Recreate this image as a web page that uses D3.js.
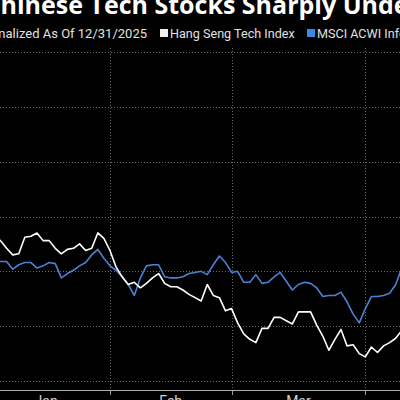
<!DOCTYPE html>
<html>
<head>
<meta charset="utf-8">
<script src="https://cdn.jsdelivr.net/npm/d3@7"></script>
<style>
  html, body { margin: 0; padding: 0; background: #000; overflow: hidden; }
  svg { display: block; }
</style>
</head>
<body>
<svg id="chart" width="400" height="400"></svg>
<script>
// trading days, normalized to 100 as of 12/31/2025
var dates = ["2025-12-31",
  "2026-01-02","2026-01-05","2026-01-06","2026-01-07","2026-01-08","2026-01-09",
  "2026-01-12","2026-01-13","2026-01-14","2026-01-15","2026-01-16",
  "2026-01-19","2026-01-20","2026-01-21","2026-01-22","2026-01-23",
  "2026-01-26","2026-01-27","2026-01-28","2026-01-29","2026-01-30",
  "2026-02-02","2026-02-03","2026-02-04","2026-02-05","2026-02-06",
  "2026-02-09","2026-02-10","2026-02-11","2026-02-12","2026-02-13",
  "2026-02-16","2026-02-17","2026-02-18","2026-02-19","2026-02-20",
  "2026-02-23","2026-02-24","2026-02-25","2026-02-26","2026-02-27",
  "2026-03-02","2026-03-03","2026-03-04","2026-03-05","2026-03-06",
  "2026-03-09","2026-03-10","2026-03-11","2026-03-12","2026-03-13",
  "2026-03-16","2026-03-17","2026-03-18","2026-03-19","2026-03-20",
  "2026-03-23","2026-03-24","2026-03-25","2026-03-26","2026-03-27",
  "2026-03-30","2026-03-31","2026-04-01","2026-04-02","2026-04-03",
  "2026-04-06","2026-04-07","2026-04-08","2026-04-09"];

var hangSeng = [100,
  103.4,103.2,103.0,102.8,102.1,101.5,
  101.6,103.1,103.2,103.5,102.8,
  102.8,102.1,101.6,102.0,102.1,
  102.5,101.9,102.1,103.5,103.0,
  101.9,100.4,99.5,98.8,99.0,
  98.5,98.9,99.4,99.8,98.9,
  98.6,98.6,98.3,97.9,97.6,
  97.3,98.8,97.8,97.6,96.4,
  96.6,95.3,94.3,93.8,93.5,
  94.8,94.8,95.8,95.8,95.5,
  95.2,96.3,96.3,96.3,95.1,
  94.1,92.8,93.8,94.7,93.2,
  93.3,92.5,92.2,93.1,92.6,
  93.2,93.5,93.9,94.6];

var msciIT = [100,
  101.0,100.9,100.8,100.9,100.9,100.2,
  100.6,100.8,100.8,100.3,100.5,
  100.8,100.7,99.4,99.8,100.1,
  100.5,100.8,101.5,102.0,101.2,
  100.5,100.1,99.5,98.8,97.8,
  99.4,100.5,100.6,100.6,99.5,
  99.4,99.4,99.5,99.8,99.9,
  100.0,99.7,100.6,101.4,100.8,
  99.9,100.0,99.0,99.0,99.7,
  98.9,99.0,99.5,99.9,99.1,
  98.3,98.8,99.0,98.9,98.5,
  97.7,97.8,97.8,98.1,97.2,
  96.1,95.3,96.6,97.7,97.7,
  97.8,98.0,98.8,100.3];

var months = ["Jan", "Feb", "Mar", "Apr"];
var yTicks = [90, 95, 100, 105, 110, 115, 120];

var seriesNames = ["Hang Seng Tech Index", "MSCI ACWI Information Technology Index"];
var seriesColors = ["#ffffff", "#4a82d4"];

var svg = d3.select("#chart");
var parse = d3.timeParse("%Y-%m-%d");
var days = dates.map(parse);

// x is trading-day index (Bloomberg style, no weekend gaps)
var x = d3.scaleLinear().domain([0, dates.length - 1]).range([-23.8, 401.8]);
var y = d3.scaleLinear().domain([90, 120]).range([381, 52]);

var axisY = 390;

// horizontal grid
svg.append("g").selectAll("line")
  .data(yTicks).enter().append("line")
  .attr("x1", 0).attr("x2", 400)
  .attr("y1", function(d){ return Math.round(y(d)) + 0.5; })
  .attr("y2", function(d){ return Math.round(y(d)) + 0.5; })
  .attr("stroke", "#6a6a6a")
  .attr("stroke-width", 1)
  .attr("stroke-dasharray", "1,2");

// month boundaries = first trading day of each month
var monthStarts = [];
days.forEach(function(d, i){
  if (i > 0 && d.getMonth() != days[i-1].getMonth()) monthStarts.push(i);
});

svg.append("g").selectAll("line")
  .data(monthStarts.slice(1)).enter().append("line")
  .attr("x1", function(i){ return Math.round(x(i)) + 0.5; })
  .attr("x2", function(i){ return Math.round(x(i)) + 0.5; })
  .attr("y1", 48).attr("y2", axisY)
  .attr("stroke", "#6a6a6a")
  .attr("stroke-width", 1)
  .attr("stroke-dasharray", "1,2");

// ticks below axis
svg.append("g").selectAll("line")
  .data(monthStarts.slice(1)).enter().append("line")
  .attr("x1", function(i){ return Math.round(x(i)) + 0.5; })
  .attr("x2", function(i){ return Math.round(x(i)) + 0.5; })
  .attr("y1", axisY).attr("y2", axisY + 5)
  .attr("stroke", "#9a9a9a");

// axis baseline
svg.append("line")
  .attr("x1", 0).attr("x2", 400)
  .attr("y1", axisY + 0.5).attr("y2", axisY + 0.5)
  .attr("stroke", "#b0b0b0").attr("stroke-width", 1.2);

// month labels centred between boundaries
var bounds = monthStarts.map(function(i){ return x(i); });
var labelData = [];
for (var m = 0; m < bounds.length - 1; m++) {
  labelData.push({ name: months[m], cx: (bounds[m] + bounds[m+1]) / 2 });
}
svg.append("g").selectAll("text")
  .data(labelData).enter().append("text")
  .attr("x", function(d){ return d.cx; })
  .attr("y", 406)
  .attr("text-anchor", "middle")
  .attr("fill", "#d0d0d0")
  .style("font-family", "Roboto, 'Liberation Sans', sans-serif")
  .style("font-size", "14px")
  .text(function(d){ return d.name; });

// lines
var line = d3.line()
  .x(function(d, i){ return x(i); })
  .y(function(d){ return y(d); });

svg.append("path").datum(msciIT)
  .attr("d", line)
  .attr("fill", "none")
  .attr("stroke", seriesColors[1])
  .attr("stroke-width", 1.6)
  .attr("stroke-linejoin", "round");

svg.append("path").datum(hangSeng)
  .attr("d", line)
  .attr("fill", "none")
  .attr("stroke", seriesColors[0])
  .attr("stroke-width", 1.6)
  .attr("stroke-linejoin", "round");

// title (cropped on both sides in the original)
var title = svg.append("text")
  .attr("y", 14)
  .attr("fill", "#ffffff")
  .style("font-family", "'Open Sans', sans-serif")
  .style("font-weight", "bold")
  .style("font-size", "25px")
  .text("Chinese Tech Stocks Sharply Underperform");
var cw = title.node().getSubStringLength(0, 1);
title.attr("x", -cw + 0.5);

// subtitle + legend
var font = "Roboto, 'Liberation Sans', sans-serif";
svg.append("text")
  .attr("x", 147).attr("y", 38)
  .attr("text-anchor", "end")
  .attr("fill", "#e0e0e0")
  .style("font-family", font)
  .style("font-size", "13px")
  .text("Normalized As Of 12/31/2025");

var legendX = [160, 307];
seriesNames.forEach(function(name, k){
  svg.append("rect")
    .attr("x", legendX[k]).attr("y", 29)
    .attr("width", 8).attr("height", 8)
    .attr("fill", k == 0 ? "#f0f0f0" : "#3d86e6");
  svg.append("text")
    .attr("x", legendX[k] + 10).attr("y", 38)
    .attr("fill", "#e0e0e0")
    .style("font-family", font)
    .style("font-size", "12.6px")
    .text(name);
});
</script>
</body>
</html>
